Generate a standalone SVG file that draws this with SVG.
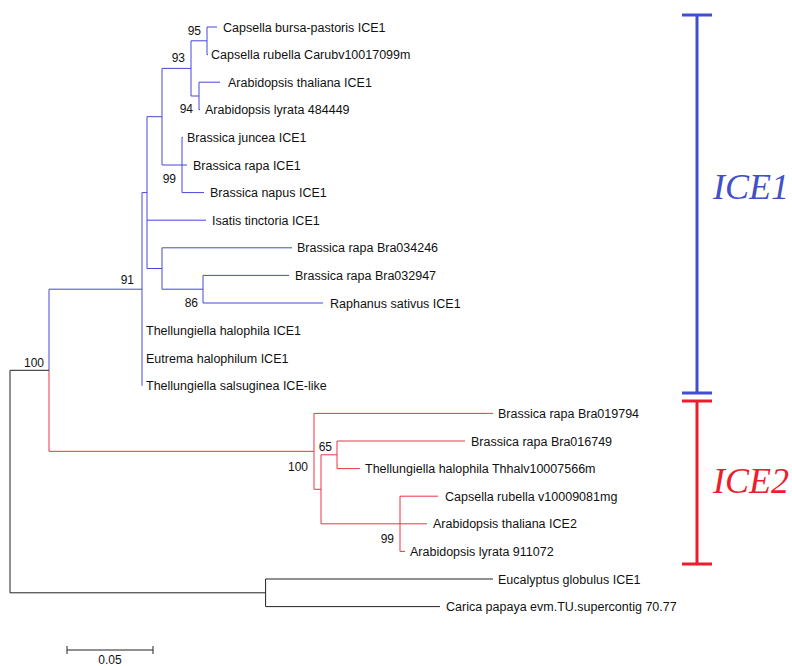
<svg xmlns="http://www.w3.org/2000/svg" width="792" height="666" viewBox="0 0 792 666">
<style>
.leaf{font-family:"Liberation Sans",Arial,sans-serif;font-size:12.5px;fill:#111}
.bs{font-family:"Liberation Sans",Arial,sans-serif;font-size:12px;fill:#111;text-anchor:end}
.b{stroke:#4646dc;stroke-width:1;fill:none}
.r{stroke:#ee3344;stroke-width:1;fill:none}
.k{stroke:#222;stroke-width:1;fill:none}
.grp{font-family:"Liberation Serif","Times New Roman",serif;font-style:italic;font-size:36px}
</style>
<rect width="792" height="666" fill="#fff"/>
<g id="connectors">
<path class="b" d="M207 27V54.6M207 27H217M207 54.6H208M199 82.2V109.8M199 82.2H220M199 109.8H200M191 40.8V96M191 40.8H207M191 96H199M182 137.4V192.6M182 137.4H183M182 165H187M182 192.6H204M162 68.4V165M162 68.4H191M162 165H182M203 275.4V303M203 275.4H289M203 303H323M162 247.8V289.2M162 247.8H292M162 289.2H203M147 116.7V268.5M147 116.7H162M147 220.2H206M147 268.5H162M142 192.6V385.8M142 192.6H147M49 289.2V370.3M49 289.2H142"/>
<path class="r" d="M49 370.3V451.35M49 451.35H314M314 413.4V489.3M314 413.4H493M314 489.3H321M321 454.8V523.8M321 454.8H337M321 523.8H427M337 441V468.6M337 441H465M337 468.6H360M400 496.2V551.4M400 496.2H438M400 551.4H405"/>
<path class="k" d="M10 370.3V592.8M10 370.3H49M10 592.8H265.6M265.6 579V606.6M265.6 579H493M265.6 606.6H440"/>
</g>
<g id="leaves">
<g id="n1"><text class="leaf" x="223" y="31.5">Capsella bursa-pastoris ICE1</text></g>
<g id="n2"><text class="leaf" x="211" y="59.1">Capsella rubella Carubv10017099m</text></g>
<g id="n3"><text class="leaf" x="228" y="86.7">Arabidopsis thaliana ICE1</text></g>
<g id="n4"><text class="leaf" x="205" y="114.3">Arabidopsis lyrata 484449</text></g>
<g id="n5"><text class="leaf" x="187" y="141.9">Brassica juncea ICE1</text></g>
<g id="n6"><text class="leaf" x="193" y="169.5">Brassica rapa ICE1</text></g>
<g id="n7"><text class="leaf" x="210" y="197.1">Brassica napus ICE1</text></g>
<g id="n8"><text class="leaf" x="212" y="224.7">Isatis tinctoria ICE1</text></g>
<g id="n9"><text class="leaf" x="297" y="252.3">Brassica rapa Bra034246</text></g>
<g id="n10"><text class="leaf" x="295" y="279.9">Brassica rapa Bra032947</text></g>
<g id="n11"><text class="leaf" x="330" y="307.5">Raphanus sativus ICE1</text></g>
<g id="n12"><text class="leaf" x="146" y="335.1">Thellungiella halophila ICE1</text></g>
<g id="n13"><text class="leaf" x="146" y="362.7">Eutrema halophilum ICE1</text></g>
<g id="n14"><text class="leaf" x="146" y="390.3">Thellungiella salsuginea ICE-like</text></g>
<g id="n15"><text class="leaf" x="498" y="417.9">Brassica rapa Bra019794</text></g>
<g id="n16"><text class="leaf" x="471" y="445.5">Brassica rapa Bra016749</text></g>
<g id="n17"><text class="leaf" x="365" y="473.1">Thellungiella halophila Thhalv10007566m</text></g>
<g id="n18"><text class="leaf" x="445" y="500.7">Capsella rubella v10009081mg</text></g>
<g id="n19"><text class="leaf" x="433" y="528.3">Arabidopsis thaliana ICE2</text></g>
<g id="n20"><text class="leaf" x="410" y="555.9">Arabidopsis lyrata 911072</text></g>
<g id="n21"><text class="leaf" x="498" y="583.5">Eucalyptus globulus ICE1</text></g>
<g id="n22"><text class="leaf" x="446" y="611.1">Carica papaya evm.TU.supercontig 70.77</text></g>
</g>
<g id="bootstrap">
<g id="bs95"><text class="bs" x="201" y="35">95</text></g>
<g id="bs93"><text class="bs" x="185" y="62">93</text></g>
<g id="bs94"><text class="bs" x="193" y="113">94</text></g>
<g id="bs99a"><text class="bs" x="176" y="183">99</text></g>
<g id="bs86"><text class="bs" x="198" y="307">86</text></g>
<g id="bs91"><text class="bs" x="134" y="284">91</text></g>
<g id="bs100a"><text class="bs" x="44" y="367">100</text></g>
<g id="bs65"><text class="bs" x="332" y="451">65</text></g>
<g id="bs100b"><text class="bs" x="308" y="471">100</text></g>
<g id="bs99b"><text class="bs" x="394" y="543">99</text></g>
</g>
<g id="scale">
<path class="k" d="M67 650H153M67 646V654M153 646V654"/>
<text class="bs" x="110" y="664" style="text-anchor:middle">0.05</text>
</g>
<g id="ICE1">
<path d="M697 15V393M682 15H712M682 393H712" stroke="#3f4fcf" stroke-width="3" fill="none"/>
<text class="grp" x="713" y="199" fill="#4050c8">ICE1</text>
</g>
<g id="ICE2">
<path d="M697 401V564M682 401H712M682 564H712" stroke="#ee1c2c" stroke-width="3" fill="none"/>
<text class="grp" x="713" y="493" fill="#ee1c2c">ICE2</text>
</g>
</svg>
